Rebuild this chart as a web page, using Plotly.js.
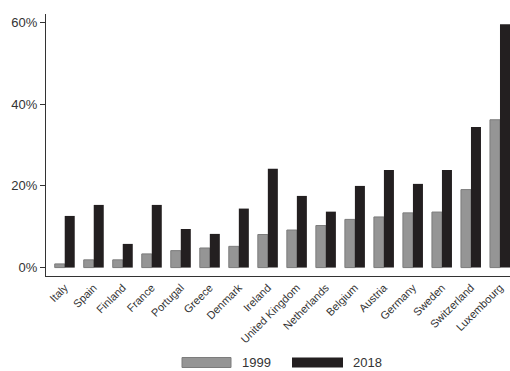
<!DOCTYPE html>
<html>
<head>
<meta charset="utf-8">
<script src="https://cdn.plot.ly/plotly-3.0.1.min.js"></script>
<style>html,body{margin:0;padding:0;background:#fff;}#chart{width:510px;height:371px;}</style>
</head>
<body>
<div id="chart"></div>
<script>
const countries = ["Italy","Spain","Finland","France","Portugal","Greece","Denmark","Ireland","United Kingdom","Netherlands","Belgium","Austria","Germany","Sweden","Switzerland","Luxembourg"];
const values1999 = [0.9,1.9,1.9,3.35,4.15,4.8,5.2,8.1,9.2,10.3,11.8,12.4,13.4,13.6,19.1,36.2];
const values2018 = [12.65,15.35,5.8,15.35,9.45,8.25,14.45,24.2,17.55,13.7,20.0,23.9,20.5,23.9,34.4,59.6];
const seriesNames = ["1999","2018"];
const tickVals = [0,20,40,60];
const tickText = ["0%","20%","40%","60%"];

const grayFill = "#959595", grayLine = "#7c7c7c", blackFill = "#231f20";
const textColor = "#333333";

const traces = [
  {type:"bar", name:seriesNames[0], x:countries, y:values1999,
   marker:{color:grayFill, line:{color:grayLine, width:1}}},
  {type:"bar", name:seriesNames[1], x:countries, y:values2018,
   marker:{color:blackFill, line:{color:blackFill, width:0}}}
];

const layout = {
  width:510, height:371,
  margin:{l:46, r:0, t:14, b:95},
  paper_bgcolor:"#fff", plot_bgcolor:"#fff",
  font:{family:"Liberation Sans, Arial, sans-serif", color:textColor, size:13},
  showlegend:false,
  barmode:"group", bargap:0.31, bargroupgap:0,
  xaxis:{
    range:[-0.645, 15.345], showline:true, linecolor:"#333", linewidth:1,
    ticks:"", showgrid:false, zeroline:false, tickangle:-45,
    tickfont:{size:11, color:textColor}
  },
  yaxis:{
    range:[-2.06, 62.1], showline:true, linecolor:"#333", linewidth:1,
    ticks:"outside", ticklen:5, tickcolor:"#333", tickwidth:1,
    tickvals:tickVals, ticktext:tickText, showgrid:false, zeroline:false,
    tickfont:{size:13, color:textColor}
  },
  shapes:[
    {type:"rect", xref:"paper", yref:"paper", x0:(182-46)/464, x1:(231-46)/464, y0:-(357.5-276)/262, y1:-(367.5-276)/262,
     fillcolor:grayFill, line:{color:grayLine, width:1}},
    {type:"rect", xref:"paper", yref:"paper", x0:(292-46)/464, x1:(343-46)/464, y0:-(357.5-276)/262, y1:-(367.5-276)/262,
     fillcolor:blackFill, line:{color:blackFill, width:0}}
  ],
  annotations:[
    {xref:"paper", yref:"paper", x:(240-46)/464, y:-(362.5-276)/262, xanchor:"left", yanchor:"middle",
     text:seriesNames[0], showarrow:false, font:{size:13, color:textColor}},
    {xref:"paper", yref:"paper", x:(351-46)/464, y:-(362.5-276)/262, xanchor:"left", yanchor:"middle",
     text:seriesNames[1], showarrow:false, font:{size:13, color:textColor}}
  ]
};

Plotly.newPlot("chart", traces, layout, {displayModeBar:false, staticPlot:true});
</script>
</body>
</html>
